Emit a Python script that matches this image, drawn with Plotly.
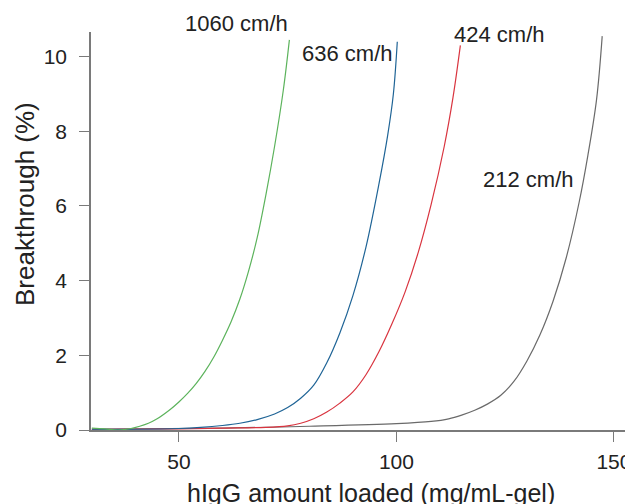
import plotly.graph_objects as go

# breakthrough curves (x: mg/mL-gel, y: %)
green_x = [30, 33, 36, 39, 41, 43, 45, 48, 50, 52, 54, 56, 58, 60, 62, 64, 66, 68, 70, 72, 74, 75.4]
green_y = [0.05, 0.03, 0.0, 0.04, 0.1, 0.18, 0.3, 0.55, 0.75, 0.98, 1.25, 1.57, 1.95, 2.4, 2.9, 3.5, 4.25, 5.15, 6.3, 7.6, 9.1, 10.45]

blue_x = [30, 40, 50, 55, 60, 64, 68, 72, 75, 78, 81, 84, 87, 90, 93, 96, 98, 99.3, 100.2]
blue_y = [0.02, 0.02, 0.04, 0.07, 0.12, 0.18, 0.28, 0.43, 0.6, 0.85, 1.2, 1.8, 2.6, 3.6, 4.9, 6.6, 7.9, 9.0, 10.4]

red_x = [30, 50, 60, 70, 75, 78, 81, 84, 87, 90, 93, 96, 99, 102, 105, 108, 111, 113, 114.7]
red_y = [0.02, 0.03, 0.05, 0.07, 0.11, 0.18, 0.3, 0.48, 0.72, 1.02, 1.48, 2.1, 2.85, 3.7, 4.75, 6.05, 7.6, 8.9, 10.3]

gray_x = [30, 60, 80, 100, 108, 112, 115, 118, 121, 124, 127, 130, 133, 136, 139, 142, 144, 146, 147.3]
gray_y = [0.02, 0.05, 0.1, 0.17, 0.23, 0.3, 0.4, 0.53, 0.7, 0.93, 1.3, 1.85, 2.55, 3.45, 4.6, 6.1, 7.35, 8.85, 10.55]

labels = ["1060 cm/h", "636 cm/h", "424 cm/h", "212 cm/h"]
label_x = [63.3, 88.8, 123.8, 130.3]
label_y = [10.88, 10.09, 10.58, 6.70]

x_ticks = [50, 100, 150]
y_ticks = [0, 2, 4, 6, 8, 10]
y_range = [0, 10.66]

font = "Liberation Sans, Arial, sans-serif"

fig = go.Figure()
for xs, ys, col in [(gray_x, gray_y, "#6a6a6a"), (red_x, red_y, "#d9343f"),
                    (blue_x, blue_y, "#1f6496"), (green_x, green_y, "#5cb35c")]:
    fig.add_trace(go.Scatter(x=xs, y=ys, mode="lines", line=dict(color=col, width=1.2, shape="spline", smoothing=1.0),
                             showlegend=False, hoverinfo="skip"))

# labels can sit above the top of the axis, so place them in paper units
for t, x, y in zip(labels, label_x, label_y):
    fig.add_annotation(x=x, y=y / y_range[1], yref="paper", text=t, showarrow=False,
                       xanchor="center", yanchor="middle",
                       font=dict(size=22, color="#222222", family=font))

fig.add_annotation(x=-0.123, y=0.568, xref="paper", yref="paper", text="Breakthrough (%)",
                   textangle=-90, showarrow=False, xanchor="center", yanchor="middle",
                   font=dict(size=26, color="#222222", family=font))
fig.add_annotation(x=0.522, y=-0.158, xref="paper", yref="paper", text="hIgG amount loaded (mg/mL-gel)",
                   showarrow=False, xanchor="center", yanchor="middle",
                   font=dict(size=25, color="#222222", family=font))

axis_style = dict(showgrid=False, zeroline=False, showline=True, linecolor="#7a7a7a", linewidth=1.5,
                  ticks="outside", ticklen=10, tickwidth=1.2, tickcolor="#7a7a7a", automargin=False,
                  tickfont=dict(size=21, color="#222222", family=font))
fig.update_xaxes(range=[29.8, 153], tickvals=x_ticks, ticklabelstandoff=2, **axis_style)
fig.update_yaxes(range=y_range, tickvals=y_ticks, ticklabelstandoff=8, **axis_style)

# page body adds an 8px margin, so the figure is 8px smaller and shifted
fig.update_layout(width=625, height=496, margin=dict(l=83, r=6, t=24, b=74),
                  plot_bgcolor="white", paper_bgcolor="white")
fig.write_html("out.html")
